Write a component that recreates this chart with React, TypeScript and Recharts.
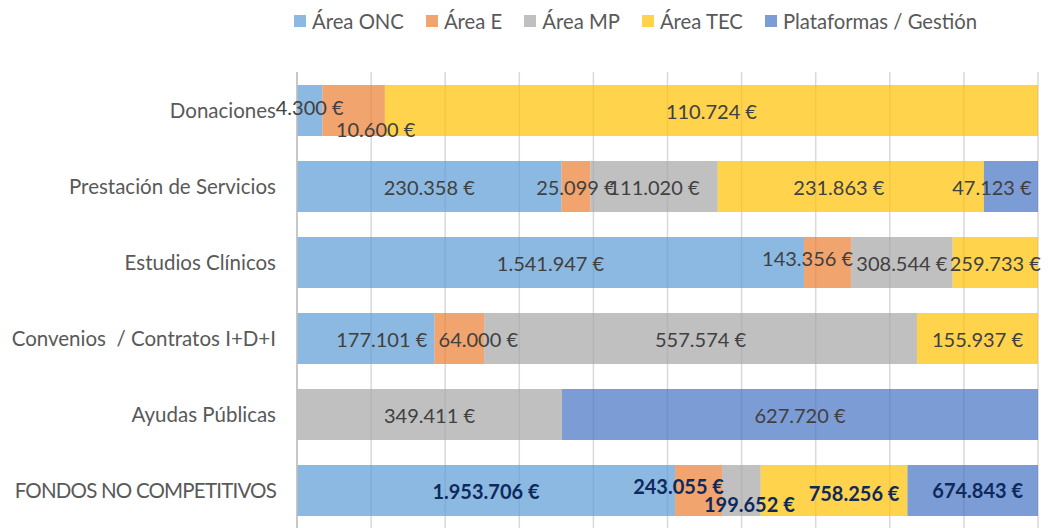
import React from "react";
import { BarChart, Bar, XAxis, YAxis, CartesianGrid, LabelList } from "recharts";

// categories, top to bottom
const categories = [
  "Donaciones",
  "Prestación de Servicios",
  "Estudios Clínicos",
  "Convenios  / Contratos I+D+I",
  "Ayudas Públicas",
  "FONDOS NO COMPETITIVOS",
];

// amounts in euros per area (0 = no segment)
const areaOnc = [4300, 230358, 1541947, 177101, 0, 1953706];
const areaE = [10600, 25099, 143356, 64000, 0, 243055];
const areaMp = [0, 111020, 308544, 557574, 349411, 199652];
const areaTec = [110724, 231863, 259733, 155937, 0, 758256];
const plataformas = [0, 47123, 0, 0, 627720, 674843];

const xTicks = [0, 0.1, 0.2, 0.3, 0.4, 0.5, 0.6, 0.7, 0.8, 0.9, 1];

const SERIES = [
  { key: "onc", name: "Área ONC", color: "#5B9BD5", values: areaOnc },
  { key: "e", name: "Área E", color: "#ED7D31", values: areaE },
  { key: "mp", name: "Área MP", color: "#A5A5A5", values: areaMp },
  { key: "tec", name: "Área TEC", color: "#FFC000", values: areaTec },
  { key: "plat", name: "Plataformas / Gestión", color: "#4472C4", values: plataformas },
];

const FONT = "Lato, 'Open Sans', sans-serif";

// manual nudges (series-categoryIndex) for labels moved by hand in the original
const NUDGE: Record<string, [number, number]> = {
  "onc-0": [0, -4],
  "e-0": [22, 18],
  "tec-1": [-12, 0],
  "plat-1": [-19, 0],
  "e-2": [-20, -5],
  "onc-3": [16, 0],
  "e-3": [19, 0],
  "e-5": [-20, -5],
  "mp-5": [8, 13],
  "tec-5": [20, 2],
  "plat-5": [5, -1],
};

const chartData = categories.map((name, i) => {
  const row: Record<string, string | number> = { name, idx: i };
  SERIES.forEach((s) => {
    row[s.key] = s.values[i];
  });
  return row;
});

const formatEuro = (v: number) =>
  String(Math.round(v)).replace(/\B(?=(\d{3})+(?!\d))/g, ".") + " €";

// label value is "categoryIndex|amount" so we know which row it belongs to
const makeLabel = (seriesKey: string) => (props: any) => {
  const { x, y, width, height, value } = props;
  const [idxStr, amountStr] = String(value).split("|");
  const amount = Number(amountStr);
  if (!amount) return null;
  const idx = Number(idxStr);
  const [dx, dy] = NUDGE[`${seriesKey}-${idx}`] || [0, 0];
  const isTotal = idx === categories.length - 1;
  return (
    <text
      x={x + width / 2 + dx}
      y={y + height / 2 + dy}
      textAnchor="middle"
      dominantBaseline="central"
      fontFamily={FONT}
      fontSize={20}
      fontWeight={isTotal ? 700 : 400}
      fill={isTotal ? "#0E2A5C" : "#404040"}
    >
      {formatEuro(amount)}
    </text>
  );
};

const CategoryTick = (props: any) => {
  const { x, y, payload } = props;
  const label = String(payload.value);
  const allCaps = label === label.toUpperCase();
  return (
    <text
      x={x}
      y={y}
      textAnchor="end"
      dominantBaseline="central"
      fontFamily={FONT}
      fontSize={20.5}
      fill="#595959"
      letterSpacing={allCaps ? -0.8 : 0}
      style={{ whiteSpace: "pre" }}
    >
      {label}
    </text>
  );
};

const Legend = () => (
  <div
    style={{
      position: "absolute",
      top: 9,
      left: 294,
      display: "flex",
      alignItems: "center",
      gap: 22,
      fontFamily: FONT,
      fontSize: 20.3,
      lineHeight: "24px",
      color: "#595959",
      whiteSpace: "nowrap",
    }}
  >
    {SERIES.map((s) => (
      <div key={s.key} style={{ display: "flex", alignItems: "center", gap: 6 }}>
        <span
          style={{
            width: 12,
            height: 12,
            backgroundColor: s.color,
            opacity: 0.7,
            display: "inline-block",
          }}
        />
        <span>{s.name}</span>
      </div>
    ))}
  </div>
);

export default function App() {
  return (
    <div style={{ position: "absolute", top: 0, left: 0, width: 1052, height: 528, background: "#fff" }}>
      <Legend />
      <BarChart
        width={1052}
        height={528}
        data={chartData}
        layout="vertical"
        stackOffset="expand"
        margin={{ top: 72, right: 14, bottom: 0, left: 0 }}
      >
        <CartesianGrid horizontal={false} stroke="#D9D9D9" strokeWidth={1.5} />
        <XAxis type="number" domain={[0, 1]} ticks={xTicks} hide />
        <YAxis
          type="category"
          dataKey="name"
          width={297}
          tickSize={0}
          tickMargin={21}
          tick={<CategoryTick />}
          axisLine={{ stroke: "#BFBFBF", strokeWidth: 1.5 }}
          tickLine={false}
          interval={0}
        />
        {SERIES.map((s) => (
          <Bar
            key={s.key}
            dataKey={s.key}
            name={s.name}
            stackId="a"
            fill={s.color}
            fillOpacity={0.7}
            barSize={51}
            isAnimationActive={false}
          >
            <LabelList
              dataKey={(d: any) => `${d.idx}|${d[s.key]}`}
              content={makeLabel(s.key)}
            />
          </Bar>
        ))}
      </BarChart>
    </div>
  );
}
